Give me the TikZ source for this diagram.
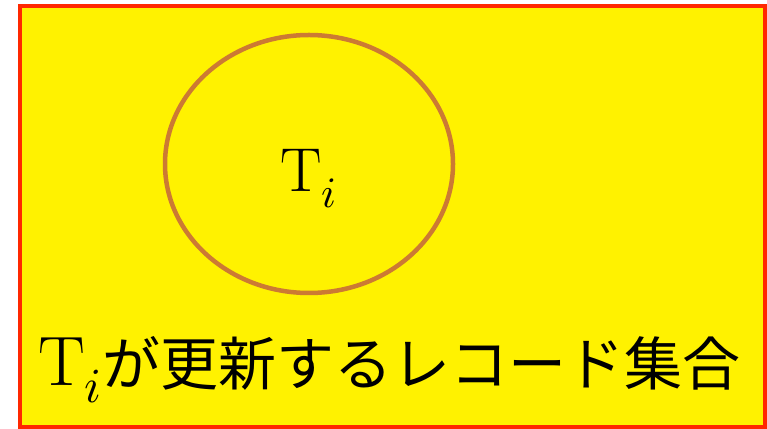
\documentclass[tikz,border=0pt]{standalone}
\usepackage{unicode-math}
\setmathfont{Latin Modern Math}
\newfontfamily\jpfont{Noto Sans CJK JP}
\definecolor{framered}{RGB}{255,40,0}
\definecolor{ringbrown}{RGB}{204,122,51}
\begin{document}
\begin{tikzpicture}[x=1pt,y=1pt,
  bigtext/.style={inner sep=0pt,font=\fontsize{62}{64}\selectfont}]
\useasboundingbox (0,0) rectangle (767,428);
\draw[framered,line width=4.5pt,fill=yellow] (20,1) rectangle (765,422);
\draw[ringbrown,line width=4.5pt] (309,264) ellipse [x radius=144,y radius=129];
\node[bigtext,anchor=base] (ti) at (309,236) {$\mathrm{T}_i$};
\node[bigtext,anchor=base west,font=\fontsize{70}{72}\selectfont] (label) at (38,43)
  {$\mathrm{T}_i$\fontsize{58}{60}\selectfont\jpfont が更新するレコード集合};
\end{tikzpicture}
\end{document}
